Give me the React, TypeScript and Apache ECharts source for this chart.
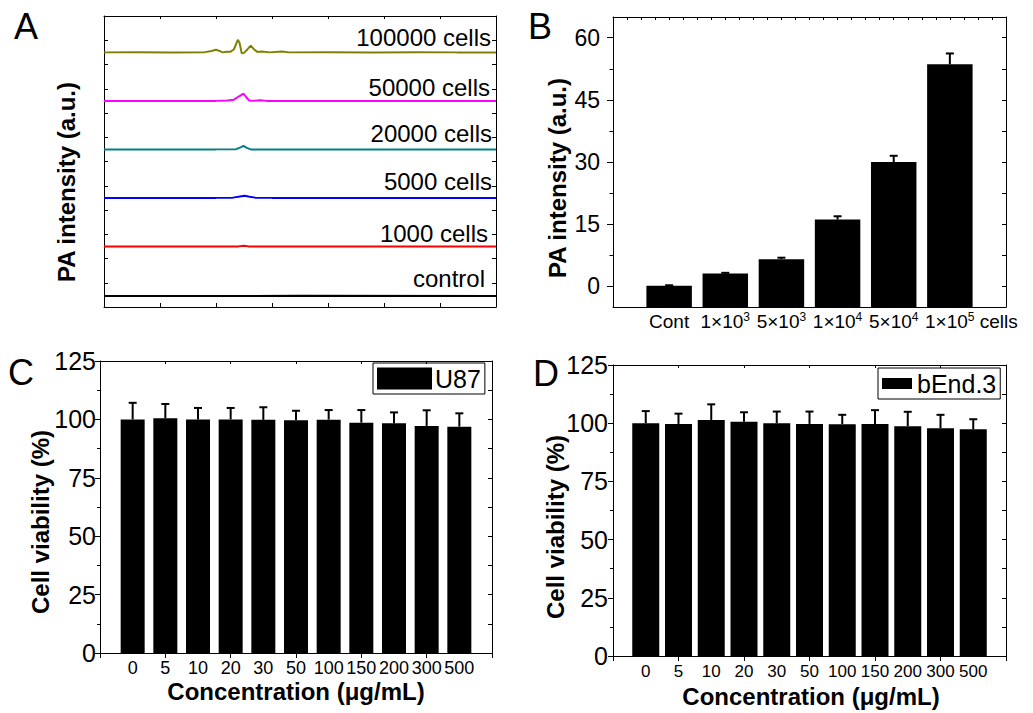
import React, { useEffect, useRef } from 'react';
import * as echarts from 'echarts';

const FONT = '"Liberation Sans", Arial, Helvetica, sans-serif';

// ---------- Panel A: PA spectra (x in arbitrary units, y offset traces) ----------
const traceLabels = ['control', '1000 cells', '5000 cells', '20000 cells', '50000 cells', '100000 cells'];
const controlTrace = [[0, 0.45], [350, 0.46], [700, 0.45]];
const cells1000Trace = [[0, 2.5], [120, 2.5], [240, 2.5], [250, 2.53], [258, 2.5], [400, 2.5], [700, 2.5]];
const cells5000Trace = [[0, 4.5], [120, 4.5], [200, 4.5], [230, 4.51], [243, 4.56], [251, 4.59], [260, 4.55], [270, 4.51], [300, 4.5], [500, 4.5], [700, 4.5]];
const cells20000Trace = [[0, 6.5], [120, 6.5], [200, 6.5], [236, 6.51], [244, 6.58], [249, 6.64], [255, 6.56], [262, 6.5], [400, 6.5], [700, 6.5]];
const cells50000Trace = [[0, 8.5], [100, 8.5], [200, 8.5], [220, 8.52], [232, 8.55], [242, 8.7], [249, 8.8], [254, 8.65], [259, 8.52], [266, 8.5], [280, 8.53], [290, 8.5], [400, 8.5], [700, 8.5]];
const cells100000Trace = [[0, 10.5], [60, 10.51], [120, 10.49], [180, 10.51], [192, 10.56], [200, 10.61], [207, 10.55], [212, 10.5], [219, 10.53], [226, 10.53], [232, 10.62], [236, 10.85], [239, 11.02], [242, 10.9], [246, 10.46], [250, 10.48], [256, 10.62], [262, 10.78], [268, 10.62], [274, 10.52], [282, 10.54], [295, 10.5], [318, 10.54], [330, 10.5], [400, 10.51], [480, 10.49], [560, 10.51], [630, 10.5], [700, 10.5]];
const traces = [controlTrace, cells1000Trace, cells5000Trace, cells20000Trace, cells50000Trace, cells100000Trace];
const traceColors = ['#000000', '#ff0000', '#0000ff', '#008080', '#ff00ff', '#808000'];

// ---------- Panel B: PA intensity bars ----------
const bCategories = ['Cont', '1×10^3', '5×10^3', '1×10^4', '5×10^4', '1×10^5'];
const bValues = [0.15, 3.1, 6.55, 16.1, 30.0, 53.6];
const bErrors = [0.1, 0.15, 0.35, 0.8, 1.5, 2.6];
const bYMin = -5;
const bYMax = 65;
const bYTicks = [0, 15, 30, 45, 60];
const bYMinorTicks = [7.5, 22.5, 37.5, 52.5];

// ---------- Panels C & D: cell viability ----------
const concentrations = ['0', '5', '10', '20', '30', '50', '100', '150', '200', '300', '500'];
const u87Values = [100.0, 100.5, 100.0, 100.0, 99.8, 99.6, 99.9, 98.6, 98.3, 97.2, 96.9];
const u87Errors = [7.1, 6.1, 4.9, 4.9, 5.4, 4.1, 4.1, 5.4, 4.7, 6.7, 5.7];
const bend3Values = [100.0, 99.7, 101.4, 100.6, 100.0, 99.7, 99.6, 99.7, 98.7, 97.8, 97.4];
const bend3Errors = [5.2, 4.4, 6.7, 4.1, 5.0, 5.3, 4.0, 5.9, 6.2, 5.8, 4.3];

const BLACK = '#000';

function errorSeries(name: string, xi: number, yi: number, vals: number[], errs: number[], offset: number, cap: number) {
  return {
    type: 'custom',
    name,
    xAxisIndex: xi,
    yAxisIndex: yi,
    z: 5,
    data: vals.map((v, i) => [i + offset, v, errs[i]]),
    renderItem: (params: any, api: any) => {
      const x = api.value(0);
      const y = api.value(1);
      const e = api.value(2);
      const p0 = api.coord([x, y]);
      const p1 = api.coord([x, y + e]);
      const st = { stroke: BLACK, lineWidth: 2 };
      return {
        type: 'group',
        children: [
          { type: 'line', shape: { x1: p0[0], y1: p0[1], x2: p1[0], y2: p1[1] }, style: st },
          { type: 'line', shape: { x1: p1[0] - cap, y1: p1[1], x2: p1[0] + cap, y2: p1[1] }, style: st },
        ],
      };
    },
  };
}

function bLabel(v: string) {
  if (!v) return '';
  const m = v.match(/^(.*)\^(\d)$/);
  if (!m) return `{n|${v}}`;
  const isLast = v === bCategories[bCategories.length - 1];
  if (isLast) return `{p|}{n|${m[1]}}{s|${m[2]}}{n| cells}`;
  return `{n|${m[1]}}{s|${m[2]}}`;
}

export default function App() {
  const ref = useRef<HTMLDivElement>(null);
  useEffect(() => {
    document.body.style.margin = '0';
    if (!ref.current) return;
    const chart = echarts.init(ref.current, undefined, { renderer: 'svg' });

    const axisLine = { show: true, onZero: false, lineStyle: { color: BLACK, width: 1 } };
    const noLabel = { show: false };
    const noSplit = { show: false };

    const grids = [
      { left: 104, top: 16, width: 392, height: 291 },
      { left: 613, top: 17, width: 393, height: 290 },
      { left: 100, top: 361, width: 392, height: 292 },
      { left: 613, top: 365, width: 393, height: 291 },
    ].map((g) => ({ ...g, containLabel: false, outerBoundsMode: 'none' }));

    const viabCats = ['', ...concentrations, ''];
    const catAxis = (gridIndex: number, margin: number, fontSize: number) => ({
      type: 'category',
      gridIndex,
      data: viabCats,
      boundaryGap: false,
      axisLine,
      axisTick: { show: true, interval: 1, inside: false, length: 5, lineStyle: { color: BLACK } },
      axisLabel: { interval: 0, margin, color: BLACK, fontSize, fontFamily: FONT, lineHeight: fontSize },
      splitLine: noSplit,
    });
    const topValAxis = (gridIndex: number, max: number, interval: number) => ({
      type: 'value',
      gridIndex,
      position: 'top',
      min: 0,
      max,
      interval,
      axisLine,
      axisTick: { show: true, inside: true, length: 3, lineStyle: { color: BLACK } },
      axisLabel: noLabel,
      splitLine: noSplit,
    });

    const xAxis: any[] = [
      // A bottom / top
      { type: 'value', gridIndex: 0, min: 0, max: 700, interval: 100, axisLine, axisTick: { show: true, inside: true, length: 4, lineStyle: { color: BLACK } }, axisLabel: noLabel, splitLine: noSplit },
      topValAxis(0, 700, 100),
      // B bottom
      {
        type: 'category', gridIndex: 1, position: 'bottom', data: ['', ...bCategories, ''], boundaryGap: false, axisLine,
        axisTick: { show: false },
        axisLabel: {
          interval: 0, margin: 4, color: BLACK, formatter: bLabel,
          rich: {
            n: { fontSize: 19, fontFamily: FONT, color: BLACK, lineHeight: 21 },
            s: { fontSize: 12, fontFamily: FONT, color: BLACK, lineHeight: 12, verticalAlign: 'top' },
            p: { width: 43, lineHeight: 21 },
          },
        },
        splitLine: noSplit,
      },
      topValAxis(1, 7, 0.25),
      // C
      catAxis(2, 6, 18),
      topValAxis(2, 12, 2),
      // D
      catAxis(3, 7, 17),
      topValAxis(3, 12, 2),
    ];

    const viabLeft = (gridIndex: number, margin: number) => ({
      type: 'value', gridIndex, position: 'left', min: 0, max: 125, interval: 25,
      axisLine,
      axisTick: { show: true, inside: false, length: 5, lineStyle: { color: BLACK } },
      minorTick: { show: true, splitNumber: 2, length: 3, lineStyle: { color: BLACK } },
      axisLabel: { margin, color: BLACK, fontSize: 25, fontFamily: FONT },
      splitLine: noSplit, minorSplitLine: noSplit,
    });
    const viabRight = (gridIndex: number) => ({
      type: 'value', gridIndex, position: 'right', min: 0, max: 125, interval: 25,
      axisLine,
      axisTick: { show: true, inside: true, length: 4, lineStyle: { color: BLACK } },
      minorTick: { show: true, splitNumber: 2, length: 4, lineStyle: { color: BLACK } },
      axisLabel: noLabel, splitLine: noSplit, minorSplitLine: noSplit,
    });

    const yAxis: any[] = [
      // A
      { type: 'value', gridIndex: 0, position: 'left', min: 0, max: 12, interval: 1, axisLine, axisTick: { show: true, inside: true, length: 4, lineStyle: { color: BLACK } }, axisLabel: noLabel, splitLine: noSplit },
      { type: 'value', gridIndex: 0, position: 'right', min: 0, max: 12, interval: 1, axisLine, axisTick: { show: true, inside: true, length: 4, lineStyle: { color: BLACK } }, axisLabel: noLabel, splitLine: noSplit },
      // B left major
      {
        type: 'value', gridIndex: 1, position: 'left', min: bYMin, max: bYMax,
        axisLine,
        axisTick: { show: true, inside: false, length: 6, customValues: bYTicks, lineStyle: { color: BLACK } },
        axisLabel: { customValues: bYTicks, margin: 13, color: BLACK, fontSize: 23, fontFamily: FONT },
        splitLine: noSplit,
      },
      // B left minor
      {
        type: 'value', gridIndex: 1, position: 'left', min: bYMin, max: bYMax,
        axisLine: { show: false },
        axisTick: { show: true, inside: false, length: 3.5, customValues: bYMinorTicks, lineStyle: { color: BLACK } },
        axisLabel: noLabel, splitLine: noSplit,
      },
      // B right
      {
        type: 'value', gridIndex: 1, position: 'right', min: bYMin, max: bYMax,
        axisLine,
        axisTick: { show: true, inside: true, length: 4, customValues: [...bYTicks, ...bYMinorTicks], lineStyle: { color: BLACK } },
        axisLabel: noLabel, splitLine: noSplit,
      },
      // C
      viabLeft(2, 4),
      viabRight(2),
      // D
      viabLeft(3, 5),
      viabRight(3),
    ];

    const series: any[] = [];
    traces.forEach((t, i) => {
      series.push({
        type: 'line', name: traceLabels[i], xAxisIndex: 0, yAxisIndex: 0, data: t,
        showSymbol: false, symbol: 'none', lineStyle: { color: traceColors[i], width: 2 }, itemStyle: { color: traceColors[i] },
      });
    });
    // B bars: drawn from the bottom of the axis (axis min), as in the reference
    series.push({
      type: 'custom', name: 'PA', xAxisIndex: 2, yAxisIndex: 2, z: 3,
      data: bValues.map((v, i) => [i + 1, v]),
      renderItem: (params: any, api: any) => {
        const x = api.value(0);
        const v = api.value(1);
        const base = api.coord([x, bYMin]);
        const top = api.coord([x, v]);
        const w = api.size([1, 0])[0] * 0.81;
        return {
          type: 'rect',
          shape: { x: top[0] - w / 2, y: top[1], width: w, height: base[1] - top[1] },
          style: { fill: BLACK },
        };
      },
    });
    series.push(errorSeries('PA err', 2, 2, bValues, bErrors, 1, 4));
    series.push({ type: 'bar', name: 'U87', xAxisIndex: 4, yAxisIndex: 5, barWidth: 24, itemStyle: { color: BLACK }, data: u87Values.map((v, i) => [i + 1, v]) });
    series.push(errorSeries('U87 err', 4, 5, u87Values, u87Errors, 1, 4));
    series.push({ type: 'bar', name: 'bEnd.3', xAxisIndex: 6, yAxisIndex: 7, barWidth: 27, itemStyle: { color: BLACK }, data: bend3Values.map((v, i) => [i + 1, v]) });
    series.push(errorSeries('bEnd.3 err', 6, 7, bend3Values, bend3Errors, 1, 4));

    const txt = (text: string, x: number, y: number, fontSize: number, opts: any = {}) => ({
      type: 'text', x, y, rotation: opts.rotation || 0,
      style: {
        text, fontSize, fontFamily: FONT, fontWeight: opts.bold ? 'bold' : 'normal', fill: BLACK,
        textAlign: opts.align || 'center', textVerticalAlign: 'middle',
      },
    });

    const traceLabelY = [278, 233, 181, 133, 87, 37];
    const traceLabelX = [485, 488, 492, 492, 490, 491];
    const graphic: any[] = [
      txt('A', 26, 26, 36),
      txt('B', 540, 26, 36),
      txt('C', 21, 372, 36),
      txt('D', 546, 373, 36),
      txt('PA intensity (a.u.)', 66, 182, 24, { bold: true, rotation: Math.PI / 2 }),
      txt('PA intensity (a.u.)', 557, 178, 24, { bold: true, rotation: Math.PI / 2 }),
      txt('Cell viability (%)', 40, 522, 24, { bold: true, rotation: Math.PI / 2 }),
      txt('Cell viability (%)', 555, 527, 24, { bold: true, rotation: Math.PI / 2 }),
      txt('Concentration (μg/mL)', 296, 691, 24, { bold: true }),
      txt('Concentration (μg/mL)', 811, 696, 24, { bold: true }),
      ...traceLabels.map((l, i) => txt(l, traceLabelX[i], traceLabelY[i], 24, { align: 'right' })),
    ];

    chart.setOption({
      animation: false,
      backgroundColor: '#fff',
      textStyle: { fontFamily: FONT },
      grid: grids,
      xAxis,
      yAxis,
      series,
      legend: [
        {
          data: ['U87'], left: 373, top: 363, orient: 'horizontal', selectedMode: false,
          icon: 'rect', itemWidth: 55, itemHeight: 22, itemGap: 0,
          padding: [3, 4, 3, 4], borderColor: BLACK, borderWidth: 1, borderRadius: 0,
          textStyle: { color: BLACK, fontSize: 25, fontFamily: FONT, lineHeight: 24, padding: [0, 0, 0, -2] },
        },
        {
          data: ['bEnd.3'], left: 878, top: 368, orient: 'horizontal', selectedMode: false,
          icon: 'rect', itemWidth: 30, itemHeight: 11, itemGap: 0,
          padding: [3, 4, 3, 4], borderColor: BLACK, borderWidth: 1, borderRadius: 0,
          textStyle: { color: BLACK, fontSize: 25, fontFamily: FONT, lineHeight: 23 },
        },
      ],
      graphic,
    });
    return () => chart.dispose();
  }, []);
  return <div ref={ref} style={{ width: 1033, height: 713 }} />;
}
